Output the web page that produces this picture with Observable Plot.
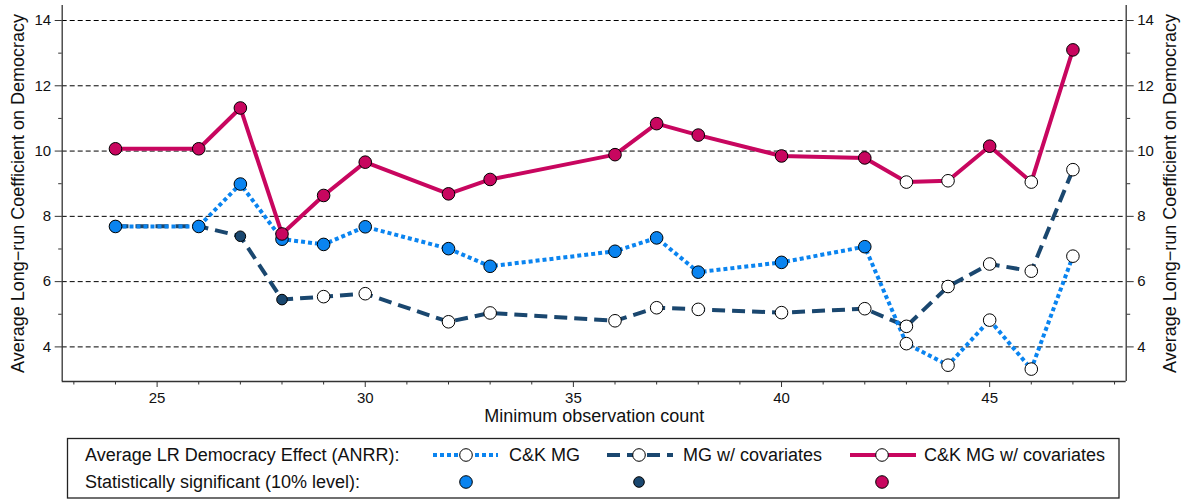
<!DOCTYPE html>
<html><head><meta charset="utf-8">
<script src="https://cdn.jsdelivr.net/npm/d3@7"></script>
<script src="https://cdn.jsdelivr.net/npm/@observablehq/plot@0.6"></script>
<style>
body{margin:0;background:#fff;font-family:"Liberation Sans",Arial,Helvetica,sans-serif;}
#chart svg{display:block}
</style></head><body><div id="chart"></div><script>
// ---- data ----
const obs      = [24, 26, 27, 28, 29, 30, 32, 33, 36, 37, 38, 40, 42, 43, 44, 45, 46, 47];
const ckmg     = [7.69, 7.69, 8.99, 7.30, 7.14, 7.68, 7.01, 6.47, 6.93, 7.34, 6.29, 6.59, 7.07, 4.10, 3.44, 4.82, 3.32, 6.78];
const ckmgSig  = [1, 1, 1, 1, 1, 1, 1, 1, 1, 1, 1, 1, 1, 0, 0, 0, 0, 0];
const mgcov    = [7.70, 7.70, 7.39, 5.45, 5.54, 5.63, 4.77, 5.04, 4.80, 5.20, 5.15, 5.05, 5.17, 4.63, 5.85, 6.54, 6.32, 9.43];
const mgcovSig = [1, 1, 1, 1, 0, 0, 0, 0, 0, 0, 0, 0, 0, 0, 0, 0, 0, 0];
const ckcov    = [10.07, 10.07, 11.32, 7.46, 8.64, 9.66, 8.69, 9.13, 9.89, 10.84, 10.49, 9.85, 9.79, 9.05, 9.09, 10.15, 9.05, 13.10];
const ckcovSig = [1, 1, 1, 1, 1, 1, 1, 1, 1, 1, 1, 1, 1, 0, 0, 1, 0, 1];

const seriesNames  = ["C&K MG", "MG w/ covariates", "C&K MG w/ covariates"];
const seriesColors = ["#0a84f0", "#1a476f", "#c8065f"];

const xMajor = [25, 30, 35, 40, 45];
const xMinor = [23, 24, 26, 27, 28, 29, 31, 32, 33, 34, 36, 37, 38, 39, 41, 42, 43, 44, 46, 47, 48];
const yMajor = [4, 6, 8, 10, 12, 14];
const yMinor = [5, 7, 9, 11, 13];
const xDomain = [22.72, 48.28];
const yDomain = [2.94, 14.46];

const yTitle = "Average Long\u2212run Coefficient on Democracy";
const xTitle = "Minimum observation count";
const legendRow1 = "Average LR Democracy Effect (ANRR):";
const legendRow2 = "Statistically significant (10% level):";

// ---- build rows ----
function rows(vals, sig, name) {
  return obs.map((x, i) => ({x, y: vals[i], sig: sig[i] === 1, series: name}));
}
const sBlue  = rows(ckmg, ckmgSig, seriesNames[0]);
const sNavy  = rows(mgcov, mgcovSig, seriesNames[1]);
const sCrim  = rows(ckcov, ckcovSig, seriesNames[2]);

const styles = [
  {data: sNavy, color: seriesColors[1], dash: "13,7", rSig: 5.3, r: 6.3},
  {data: sBlue, color: seriesColors[0], dash: "4,3", rSig: 6.3, r: 6.3},
  {data: sCrim, color: seriesColors[2], dash: null, rSig: 6.3, r: 6.3}
];

const axisColor = "#333";
const marks = [
  Plot.ruleY(yMajor, {stroke: "#000", strokeWidth: 1, strokeDasharray: "5,3"}),
  ...styles.map(s => Plot.line(s.data, {x: "x", y: "y", stroke: s.color, strokeWidth: 4,
      strokeDasharray: s.dash, strokeLinecap: "butt", strokeLinejoin: "round"})),
  ...styles.flatMap(s => [
    Plot.dot(s.data.filter(d => !d.sig), {x: "x", y: "y", r: s.r, fill: "white", stroke: "#000", strokeWidth: 1}),
    Plot.dot(s.data.filter(d => d.sig), {x: "x", y: "y", r: s.rSig, fill: s.color, stroke: "#000", strokeWidth: 1})
  ]),
  // axis lines
  Plot.ruleX([xDomain[0]], {stroke: axisColor, strokeWidth: 1.3}),
  Plot.ruleX([xDomain[1]], {stroke: axisColor, strokeWidth: 1.3}),
  Plot.ruleY([yDomain[0]], {stroke: axisColor, strokeWidth: 1.3}),
  // ticks
  Plot.axisX(xMajor, {tickSize: 6, tickPadding: 5, stroke: axisColor, fill: "#111"}),
  Plot.axisX(xMinor, {tickSize: 3.5, tickFormat: () => "", stroke: axisColor}),
  Plot.axisY(yMajor, {anchor: "left", tickSize: 7, tickPadding: 4, stroke: axisColor, fill: "#111"}),
  Plot.axisY(yMinor, {anchor: "left", tickSize: 3.5, tickFormat: () => "", stroke: axisColor}),
  Plot.axisY(yMajor, {anchor: "right", tickSize: 7, tickPadding: 4, stroke: axisColor, fill: "#111"}),
  Plot.axisY(yMinor, {anchor: "right", tickSize: 3.5, tickFormat: () => "", stroke: axisColor}),
  // titles
  Plot.text([yTitle], {frameAnchor: "left", dx: -44, rotate: -90, fontSize: 18, fill: "#111",
      textAnchor: "middle", lineAnchor: "middle", text: d => d}),
  Plot.text([yTitle], {frameAnchor: "right", dx: 44, rotate: -90, fontSize: 18, fill: "#111",
      textAnchor: "middle", lineAnchor: "middle", text: d => d}),
  Plot.text([xTitle], {frameAnchor: "bottom", dy: 35, fontSize: 18, fill: "#111",
      textAnchor: "middle", lineAnchor: "middle", text: d => d})
];

const chart = Plot.plot({
  width: 1185,
  height: 430,
  marginLeft: 61.7,
  marginRight: 59.3,
  marginTop: 5,
  marginBottom: 49,
  style: {fontFamily: "'Liberation Sans', Arial, sans-serif", fontSize: "15px", background: "white", overflow: "visible"},
  x: {domain: xDomain, label: null},
  y: {domain: yDomain, label: null},
  marks
});
document.getElementById("chart").appendChild(chart);

// ---- legend (below the plot SVG) ----
const lg = d3.select("#chart").append("svg")
  .attr("width", 1185).attr("height", 70)
  .style("display", "block")
  .style("font-family", "'Liberation Sans', Arial, sans-serif");
lg.append("rect").attr("x", 67.5).attr("y", 8.5).attr("width", 1051.5).attr("height", 59.5)
  .attr("fill", "white").attr("stroke", "#222").attr("stroke-width", 1.3);
const row1 = 25, row2 = 52;
lg.append("text").attr("x", 85).attr("y", row1).attr("dy", "0.35em").attr("font-size", 18).attr("fill", "#111").text(legendRow1);
lg.append("text").attr("x", 85).attr("y", row2).attr("dy", "0.35em").attr("font-size", 18).attr("fill", "#111").text(legendRow2);
const leg = [
  {name: seriesNames[0], color: seriesColors[0], dash: "4,3", x0: 433, x1: 498, mx: 466, tx: 509, rSig: 6.3},
  {name: seriesNames[1], color: seriesColors[1], dash: "13,7", x0: 607, x1: 673, mx: 639, tx: 683, rSig: 5.3},
  {name: seriesNames[2], color: seriesColors[2], dash: null, x0: 850, x1: 916, mx: 882, tx: 924, rSig: 6.3}
];
leg.forEach(l => {
  const ln = lg.append("line").attr("x1", l.x0).attr("x2", l.x1).attr("y1", row1).attr("y2", row1)
    .attr("stroke", l.color).attr("stroke-width", 4);
  if (l.dash) ln.attr("stroke-dasharray", l.dash);
  lg.append("circle").attr("cx", l.mx).attr("cy", row1).attr("r", 6.3).attr("fill", "white").attr("stroke", "#000");
  lg.append("text").attr("x", l.tx).attr("y", row1).attr("dy", "0.35em").attr("font-size", 18).attr("fill", "#111").text(l.name);
  lg.append("circle").attr("cx", l.mx).attr("cy", row2).attr("r", l.rSig).attr("fill", l.color).attr("stroke", "#000");
});
</script></body></html>
